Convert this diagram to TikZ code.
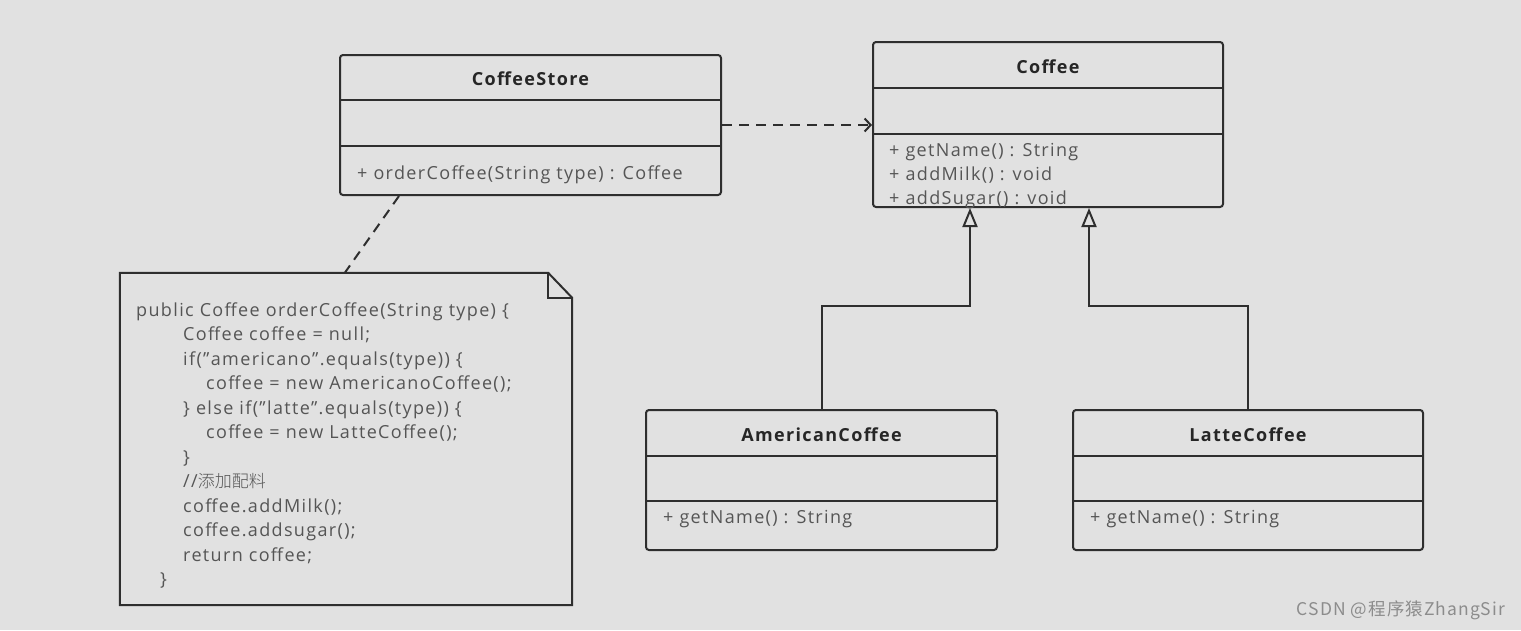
\documentclass[tikz,border=0pt]{standalone}
\usepackage{fontspec}
\setmainfont[LetterSpace=7.5]{Open Sans}
\newfontfamily\cjk{Noto Sans CJK SC Light}
\newfontfamily\cjkw[LetterSpace=6]{Noto Sans CJK SC}
\usetikzlibrary{arrows.meta}
\definecolor{bg}{HTML}{E1E1E1}
\definecolor{ln}{HTML}{2E2E2E}
\definecolor{tx}{HTML}{555555}
\definecolor{tt}{HTML}{262626}
\begin{document}
\begin{tikzpicture}[x=1pt,y=-1pt,
  cls/.style={draw=ln, line width=2pt, rounded corners=3pt, inner sep=0pt},
  div/.style={draw=ln, line width=2pt},
  title/.style={font=\fontsize{18}{20}\selectfont\bfseries, text=tt, inner sep=0pt},
  meth/.style={font=\fontsize{18}{20}\selectfont, text=tx, anchor=west, inner sep=0pt, text height=13pt, text depth=4pt},
  code/.style={font=\fontsize{18}{20}\selectfont, text=tx, anchor=west, inner sep=0pt, text height=13pt, text depth=4pt},
  dep/.style={draw=ln, line width=2pt, dash pattern=on 10pt off 7pt},
  inh/.style={draw=ln, line width=2pt, -{Triangle[open, length=19pt, width=15pt, line width=2pt]}},
]
\fill[bg] (0,0) rectangle (1521,630);
\useasboundingbox (0,0) rectangle (1521,630);

% CoffeeStore
\node[cls, minimum width=381pt, minimum height=140pt] (store) at (530.5,125) {};
\draw[div] (store.west |- 0,100) -- (store.east |- 0,100);
\draw[div] (store.west |- 0,146) -- (store.east |- 0,146);
\node[title] (storeT) at (530.5,79) {CoffeeStore};
\node[meth] (storeM) at (357,174.5) {+ orderCoffee(String type) : Coffee};

% Coffee
\node[cls, minimum width=350pt, minimum height=165pt] (coffee) at (1048,124.5) {};
\draw[div] (coffee.west |- 0,88) -- (coffee.east |- 0,88);
\draw[div] (coffee.west |- 0,134) -- (coffee.east |- 0,134);
\node[title] (coffeeT) at (1048,67) {Coffee};
\node[meth] (coffeeM1) at (889,151.5) {+ getName() : String};
\node[meth] (coffeeM2) at (889,175.5) {+ addMilk() : void};
\node[meth] (coffeeM3) at (889,199.5) {+ addSugar() : void};

% AmericanCoffee
\node[cls, minimum width=351pt, minimum height=140pt] (amer) at (821.5,480) {};
\draw[div] (amer.west |- 0,456) -- (amer.east |- 0,456);
\draw[div] (amer.west |- 0,501) -- (amer.east |- 0,501);
\node[title] (amerT) at (821.5,435) {AmericanCoffee};
\node[meth] (amerM) at (663,518.5) {+ getName() : String};

% LatteCoffee
\node[cls, minimum width=350pt, minimum height=140pt] (latte) at (1248,480) {};
\draw[div] (latte.west |- 0,456) -- (latte.east |- 0,456);
\draw[div] (latte.west |- 0,501) -- (latte.east |- 0,501);
\node[title] (latteT) at (1248,435) {LatteCoffee};
\node[meth] (latteM) at (1090,518.5) {+ getName() : String};

% dependency
\draw[dep, -{Straight Barb[length=6pt, width=13pt, line width=2pt]}] (store.east) -- (store.east -| coffee.west);

% inheritance
\draw[inh] (amer.north) -- ++(0,-103) -| ([xshift=98pt]coffee.south west);
\draw[inh] (latte.north) -- ++(0,-103) -| ([xshift=217pt]coffee.south west);

% note
\node[minimum width=452pt, minimum height=332pt, inner sep=0pt] (note) at (346,439) {};
\draw[ln, line width=2pt] (note.north west) -- ([xshift=-24pt]note.north east) -- ([yshift=-25pt]note.north east) -- (note.south east) -- (note.south west) -- cycle;
\draw[ln, line width=2pt] ([xshift=-24pt]note.north east) |- ([yshift=-25pt]note.north east);
\draw[dep] ([xshift=60pt]store.south west) -- ([xshift=225pt]note.north west);

\node[code] (l1) at (136,311.5) {public Coffee orderCoffee(String type) \{};
\node[code] (l2) at (183,336) {Coffee coffee = null;};
\node[code] (l3) at (183,360.5) {if("americano".equals(type)) \{};
\node[code] (l4) at (206,385) {coffee = new AmericanoCoffee();};
\node[code] (l5) at (183,409.5) {\} else if("latte".equals(type)) \{};
\node[code] (l6) at (206,434) {coffee = new LatteCoffee();};
\node[code] (l7) at (183,458.5) {\}};
\node[code] (l8) at (183,483) {//{\cjk\fontsize{17}{20}\selectfont 添加配料}};
\node[code] (l9) at (183,507.5) {coffee.addMilk();};
\node[code] (l10) at (183,532) {coffee.addsugar();};
\node[code] (l11) at (183,556.5) {return coffee;};
\node[code] (l12) at (160,581) {\}};

% watermark
\node[font=\cjkw\fontsize{17.5}{20}\selectfont, text=black!45, inner sep=0pt] (wm) at (1401,610) {CSDN @程序猿ZhangSir};
\end{tikzpicture}
\end{document}
